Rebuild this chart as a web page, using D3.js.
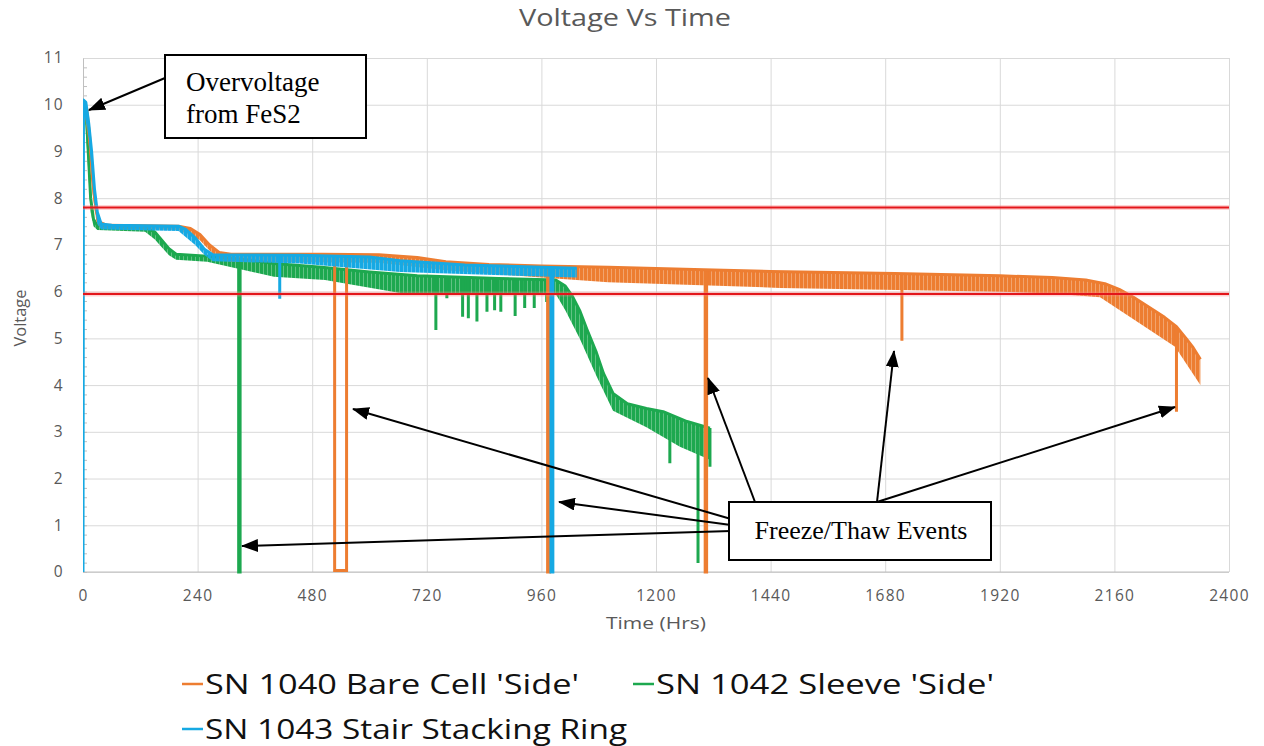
<!DOCTYPE html>
<html>
<head>
<meta charset="utf-8">
<script src="https://cdn.jsdelivr.net/npm/d3@7"></script>
<style>
  html, body { margin: 0; padding: 0; background: #fff; }
  svg { display: block; }
</style>
</head>
<body>
<svg id="chart" width="1264" height="746"></svg>
<script>
// ---- data (hours, volts) ----
const xTicks = [0, 240, 480, 720, 960, 1200, 1440, 1680, 1920, 2160, 2400]
const yTicks = [0, 1, 2, 3, 4, 5, 6, 7, 8, 9, 10, 11]
const limitLines = [7.8, 5.95]

const seriesNames = ["SN 1040 Bare Cell 'Side'", "SN 1042 Sleeve 'Side'", 'SN 1043 Stair Stacking Ring']

// SN 1040 - upper edge of trace and bottom of the pulse teeth
const orangeTop = [[2, 10.0], [8, 9.9], [14, 9.3], [20, 8.4], [28, 7.7], [36, 7.48], [50, 7.42], [200, 7.4],
  [225, 7.35], [245, 7.22], [265, 7.0], [285, 6.84], [310, 6.8], [500, 6.8], [620, 6.79], [700, 6.73],
  [760, 6.64], [850, 6.58], [960, 6.55], [1100, 6.52], [1300, 6.47], [1440, 6.43], [1700, 6.39],
  [1920, 6.34], [2030, 6.3], [2100, 6.25], [2140, 6.17], [2170, 6.05], [2200, 5.88], [2235, 5.65],
  [2265, 5.45], [2290, 5.25], [2310, 5.0], [2325, 4.8], [2340, 4.55]]
const orangeBottom = [[2, 9.9], [14, 9.0], [20, 8.1], [28, 7.5], [36, 7.36], [200, 7.32], [245, 7.1],
  [265, 6.88], [285, 6.7], [310, 6.64], [620, 6.62], [760, 6.46], [960, 6.3], [1100, 6.2],
  [1460, 6.08], [1920, 6.0], [2030, 5.96], [2130, 5.88], [2192, 5.46], [2234, 5.18], [2287, 4.82],
  [2340, 4.0]]
// [start, end, lowest volts]
const orangeEvents = [[527, 552, 0.03], [973, 977, 0], [1303, 1306, 0], [1715, 1715, 4.95], [2290, 2290, 3.43]]

// SN 1042
const greenTop = [[4, 10.0], [8, 9.6], [12, 8.8], [16, 8.0], [22, 7.55], [30, 7.42], [60, 7.4], [130, 7.38],
  [150, 7.28], [165, 7.1], [180, 6.92], [195, 6.8], [260, 6.76], [330, 6.7], [400, 6.6], [500, 6.52],
  [600, 6.42], [700, 6.34], [870, 6.28], [990, 6.25], [1010, 6.12], [1025, 5.9], [1040, 5.6],
  [1055, 5.2], [1075, 4.7], [1090, 4.25], [1110, 3.82], [1140, 3.6], [1180, 3.5], [1215, 3.43],
  [1265, 3.22], [1313, 3.08]]
const greenBottom = [[4, 9.8], [12, 8.4], [16, 7.7], [22, 7.4], [30, 7.32], [130, 7.28], [150, 7.12],
  [180, 6.78], [195, 6.68], [260, 6.64], [400, 6.32], [507, 6.25], [664, 5.97], [990, 5.95],
  [1010, 5.6], [1040, 5.0], [1075, 4.2], [1110, 3.45], [1180, 3.1], [1250, 2.68], [1313, 2.4]]
const greenEvents = [[326, 329, 0], [739, 739, 5.18], [762, 762, 5.86], [795, 795, 5.46], [807, 807, 5.43],
  [825, 825, 5.36], [846, 846, 5.57], [862, 862, 5.6], [875, 875, 5.57], [905, 905, 5.48],
  [925, 925, 5.65], [945, 945, 5.65], [971, 971, 5.78], [1229, 1229, 2.33], [1288, 1288, 0.19],
  [1313, 1313, 2.25]]

// SN 1043
const blueTop = [[0, 0], [1, 10.1], [6, 10.05], [12, 9.6], [18, 9.0], [24, 8.2], [30, 7.7], [38, 7.45],
  [60, 7.42], [200, 7.4], [215, 7.33], [235, 7.15], [255, 6.9], [272, 6.79], [454, 6.78], [600, 6.74],
  [664, 6.66], [800, 6.57], [1034, 6.5]]
const blueBottom = [[1, 9.9], [12, 9.3], [24, 7.9], [30, 7.45], [38, 7.33], [200, 7.3], [235, 7.0],
  [255, 6.78], [272, 6.65], [454, 6.6], [664, 6.42], [1034, 6.3]]
const blueEvents = [[412, 412, 5.85], [980, 984, 0]]

const colors = ['#ed7d31', '#1da84f', '#16a9e3']

// ---- layout ----
const svg = d3.select('#chart')
const plot = { left: 83, right: 1229, top: 58, bottom: 572 }

const x = d3.scaleLinear().domain([0, 2400]).range([plot.left, plot.right])
const y = d3.scaleLinear().domain([0, 11]).range([plot.bottom, plot.top])

const grey = '#595959'
const sans = '"Open Sans", sans-serif'

svg.append('text')
  .attr('x', 625)
  .attr('y', 26)
  .attr('text-anchor', 'middle')
  .attr('font-family', sans)
  .attr('font-size', 24)
  .attr('fill', grey)
  .attr('textLength', 212)
  .attr('lengthAdjust', 'spacingAndGlyphs')
  .text('Voltage Vs Time')

// gridlines
svg.append('g')
  .attr('transform', `translate(0,${plot.bottom})`)
  .call(d3.axisBottom(x).tickValues(xTicks).tickSize(-(plot.bottom - plot.top)).tickFormat(''))
  .call(g => g.select('.domain').remove())
  .call(g => g.selectAll('line').attr('stroke', '#d9d9d9'))

svg.append('g')
  .attr('transform', `translate(${plot.left},0)`)
  .call(d3.axisLeft(y).tickValues(yTicks).tickSize(-(plot.right - plot.left)).tickFormat(''))
  .call(g => g.select('.domain').remove())
  .call(g => g.selectAll('line').attr('stroke', '#d9d9d9'))

// axis lines + minor ticks
const minorTicks = d3.range(0, 55).map(i => i / 5)
svg.append('g')
  .attr('transform', `translate(${plot.left},0)`)
  .call(d3.axisLeft(y).tickValues(minorTicks).tickSize(-4).tickSizeOuter(0).tickFormat(''))
  .call(g => g.select('.domain').attr('stroke', '#bfbfbf'))
  .call(g => g.selectAll('line').attr('stroke', '#bfbfbf'))

svg.append('line')
  .attr('x1', plot.left).attr('x2', plot.right)
  .attr('y1', plot.bottom).attr('y2', plot.bottom)
  .attr('stroke', '#bfbfbf')

// tick labels
svg.append('g')
  .attr('transform', `translate(0,${plot.bottom})`)
  .call(d3.axisBottom(x).tickValues(xTicks).tickSize(0).tickPadding(18).tickFormat(d3.format('d')))
  .call(g => g.select('.domain').remove())
  .call(g => g.selectAll('text').attr('font-family', sans).attr('font-size', 15.5)
    .attr('letter-spacing', 1.3).attr('fill', grey))

svg.append('g')
  .attr('transform', `translate(${plot.left},0)`)
  .call(d3.axisLeft(y).tickValues(yTicks).tickSize(0).tickPadding(19))
  .call(g => g.select('.domain').remove())
  .call(g => g.selectAll('text').attr('font-family', sans).attr('font-size', 15.5)
    .attr('letter-spacing', 1.3).attr('fill', grey))

svg.append('text')
  .attr('x', 656).attr('y', 629)
  .attr('text-anchor', 'middle')
  .attr('font-family', sans).attr('font-size', 16.5).attr('fill', grey)
  .attr('textLength', 100).attr('lengthAdjust', 'spacingAndGlyphs')
  .text('Time (Hrs)')

svg.append('text')
  .attr('transform', `translate(26,${318}) rotate(-90)`)
  .attr('text-anchor', 'middle')
  .attr('font-family', sans).attr('font-size', 16.5).attr('fill', grey)
  .attr('textLength', 57).attr('lengthAdjust', 'spacingAndGlyphs')
  .text('Voltage')

// ---- series ----
const defs = svg.append('defs')
defs.append('clipPath').attr('id', 'plotClip')
  .append('rect')
  .attr('x', plot.left).attr('y', plot.top - 4)
  .attr('width', plot.right - plot.left + 2).attr('height', plot.bottom - plot.top + 6)

colors.forEach((c, i) => {
  const p = defs.append('pattern')
    .attr('id', 'teeth' + i)
    .attr('patternUnits', 'userSpaceOnUse')
    .attr('width', 4).attr('height', 8)
  p.append('rect').attr('width', 4).attr('height', 8).attr('fill', c).attr('opacity', 0.7)
  p.append('rect').attr('width', 3).attr('height', 8).attr('fill', c)
})

const line = d3.line().x(d => x(d[0])).y(d => y(d[1]))
const layer = svg.append('g').attr('clip-path', 'url(#plotClip)')

function drawSeries (top, bottom, events, idx) {
  const color = colors[idx]
  const g = layer.append('g')
  const band = top.filter(d => d[1] > 0).concat(bottom.slice().reverse())
  g.append('path')
    .attr('d', line(band) + 'Z')
    .attr('fill', `url(#teeth${idx})`)

  const topAt = d3.scaleLinear().domain(top.map(d => d[0])).range(top.map(d => d[1]))
  g.selectAll('path.event')
    .data(events)
    .enter()
    .append('path')
    .attr('class', 'event')
    .attr('d', d => `M${x(d[0])},${y(topAt(d[0]))}V${y(d[2])}H${x(d[1])}V${y(topAt(d[1]))}`)
    .attr('fill', 'none')
    .attr('stroke', color)
    .attr('stroke-width', 3)

  g.append('path')
    .attr('d', line(top))
    .attr('fill', 'none')
    .attr('stroke', color)
    .attr('stroke-width', 3)
    .attr('stroke-linejoin', 'round')
}

drawSeries(greenTop, greenBottom, greenEvents, 1)
drawSeries(orangeTop, orangeBottom, orangeEvents, 0)
drawSeries(blueTop, blueBottom, blueEvents, 2)

// limit lines
limitLines.forEach(v => {
  svg.append('line')
    .attr('x1', plot.left).attr('x2', plot.right)
    .attr('y1', y(v)).attr('y2', y(v))
    .attr('stroke', '#ff8080').attr('stroke-opacity', 0.35).attr('stroke-width', 5)
  svg.append('line')
    .attr('x1', plot.left).attr('x2', plot.right)
    .attr('y1', y(v)).attr('y2', y(v))
    .attr('stroke', '#e3161b').attr('stroke-width', 2)
})

// ---- callouts ----
defs.append('marker')
  .attr('id', 'arrow')
  .attr('markerUnits', 'userSpaceOnUse')
  .attr('markerWidth', 17).attr('markerHeight', 13)
  .attr('refX', 16).attr('refY', 6.5)
  .attr('orient', 'auto')
  .append('path')
  .attr('d', 'M0,0L17,6.5L0,13Z')
  .attr('fill', '#000')

function arrow (x1, y1, x2, y2) {
  svg.append('line')
    .attr('x1', x1).attr('y1', y1).attr('x2', x2).attr('y2', y2)
    .attr('stroke', '#000').attr('stroke-width', 2)
    .attr('marker-end', 'url(#arrow)')
}

const serif = '"Liberation Serif", "Times New Roman", serif'

arrow(165, 78, 89, 110)
svg.append('rect')
  .attr('x', 165).attr('y', 55).attr('width', 201).attr('height', 83)
  .attr('fill', '#fff').attr('stroke', '#000').attr('stroke-width', 2)
svg.append('text')
  .attr('x', 186).attr('y', 91)
  .attr('font-family', serif).attr('font-size', 27)
  .text('Overvoltage')
svg.append('text')
  .attr('x', 186).attr('y', 123)
  .attr('font-family', serif).attr('font-size', 27)
  .text('from FeS2')

arrow(731, 519, 353, 409)
arrow(731, 525, 559, 502)
arrow(731, 531, 242, 546)
arrow(755, 502, 708, 378)
arrow(877, 502, 894, 351)
arrow(877, 502, 1175, 407)

svg.append('rect')
  .attr('x', 729).attr('y', 502).attr('width', 262).attr('height', 58)
  .attr('fill', '#fff').attr('stroke', '#000').attr('stroke-width', 2)
svg.append('text')
  .attr('x', 861).attr('y', 539)
  .attr('text-anchor', 'middle')
  .attr('font-family', serif).attr('font-size', 26)
  .text('Freeze/Thaw Events')

// ---- legend ----
const legendItems = [
  { name: seriesNames[0], color: colors[0], x: 182, y: 684, w: 374 },
  { name: seriesNames[1], color: colors[1], x: 633, y: 684, w: 338 },
  { name: seriesNames[2], color: colors[2], x: 182, y: 729, w: 422 }
]
const legend = svg.append('g')
legend.selectAll('g')
  .data(legendItems)
  .enter()
  .append('g')
  .attr('transform', d => `translate(${d.x},${d.y})`)
  .each(function (d) {
    const item = d3.select(this)
    item.append('line')
      .attr('x1', 0).attr('x2', 21)
      .attr('stroke', d.color).attr('stroke-width', 2.5)
    item.append('text')
      .attr('x', 23)
      .attr('y', 9.5)
      .attr('font-family', sans)
      .attr('font-size', 28)
      .attr('fill', '#111')
      .attr('textLength', d.w)
      .attr('lengthAdjust', 'spacingAndGlyphs')
      .text(d.name)
  })
</script>
</body>
</html>
